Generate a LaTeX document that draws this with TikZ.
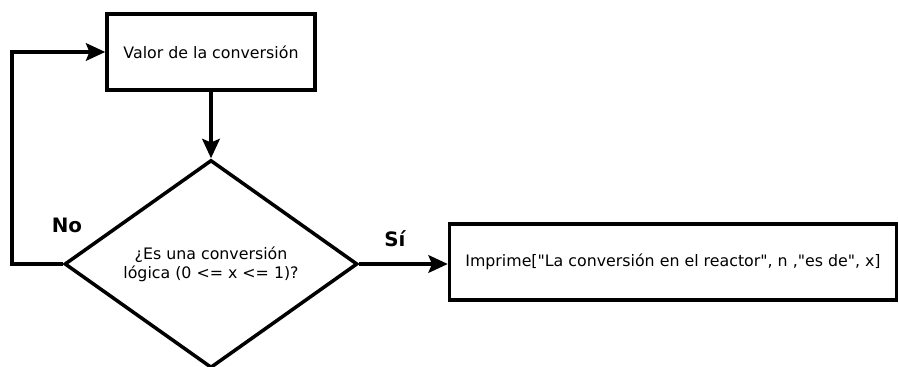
\documentclass[tikz,border=0pt]{standalone}
\usepackage{fontspec}
\setmainfont{DejaVu Sans}[Ligatures=TeXOff]
\usetikzlibrary{arrows,arrows.meta,positioning}
\usetikzlibrary{shapes.geometric}

\begin{document}
\begin{tikzpicture}[
    x=0.02cm, y=-0.02cm,
    >={Stealth[length=11pt,width=10pt,inset=2pt]},
    line width=2pt,
    font=\fontsize{9}{11}\selectfont,
    procbox/.style={
        draw,
        rectangle,
        inner sep=0pt
    },
    decision/.style={
        draw,
        diamond,
        aspect=1.41,
        align=center,
        inner sep=0pt,
        minimum width=5.86cm,
        minimum height=4.16cm
    },
    branchlabel/.style={
        font=\fontsize{11.3}{13}\selectfont\bfseries
    }
]

% ---------------------------------
% Frame
% ---------------------------------
\useasboundingbox (0,0) rectangle (899,367);

% ---------------------------------
% Boxes
% ---------------------------------
\node[procbox, minimum width=4.16cm, minimum height=1.52cm] (valor) at (211, 52) {Valor de la conversión};

\node[decision] (check) at (211, 264) {¿Es una conversión\\lógica (0 <= x <= 1)?};

\node[procbox, minimum width=8.94cm, minimum height=1.52cm] (imprime) at (673, 262)
    {Imprime["La conversión en el reactor", n ,"es de", x]};

% ---------------------------------
% Arrows
% ---------------------------------
\draw[->] (valor.south) -- (check.north);
\draw[->] (check.west) -- ++(-51, 0) |- (valor.west);
\draw[->] (check.east) -- (check.east -| imprime.west);

% ---------------------------------
% Labels
% ---------------------------------
\node[branchlabel] (no) at (67, 225) {No};
\node[branchlabel] (si) at (395, 239) {Sí};

\end{tikzpicture}
\end{document}
